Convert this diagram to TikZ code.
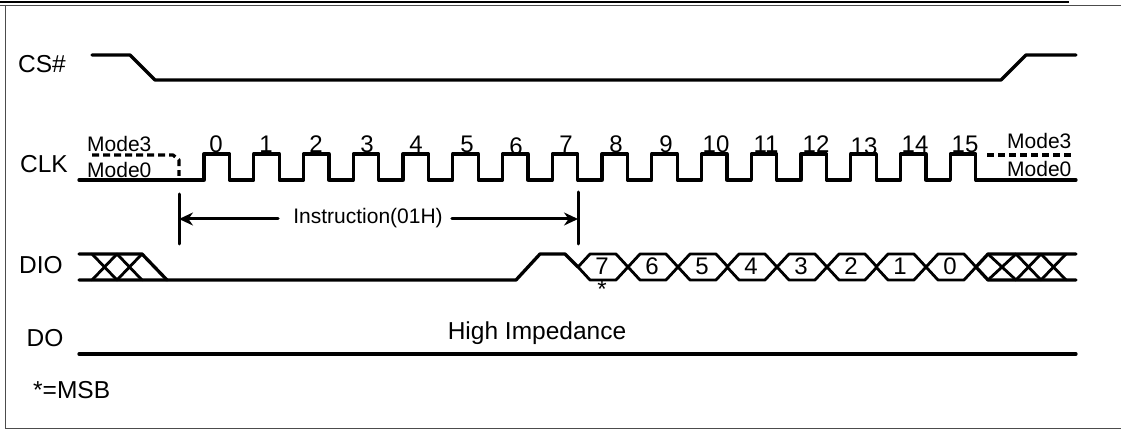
\documentclass[tikz,border=0pt]{standalone}
\usepackage{fontspec}
\setmainfont{Liberation Sans}
\usetikzlibrary{arrows.meta}
\tikzstyle{signal}=[draw,line width=3.3pt,line cap=round,line join=round]
\tikzstyle{thinsignal}=[draw,line width=2.8pt,line cap=round,line join=round]
\tikzstyle{modeline}=[signal,line cap=butt,dash pattern=on 7pt off 4pt]
\tikzstyle{marker}=[draw,line width=3pt,line cap=round]
\tikzstyle{spanline}=[draw,line width=3pt,line cap=round,-{Stealth[length=14pt,width=13pt]}]
\tikzstyle{frameline}=[draw,line width=1.3pt,black!70]
\tikzstyle{signame}=[font=\fontsize{24.5}{24.5}\selectfont,inner sep=0pt]
\tikzstyle{modename}=[font=\fontsize{21}{21}\selectfont,inner sep=0pt]
\tikzstyle{digit}=[font=\fontsize{24}{24}\selectfont,inner sep=0pt]
\begin{document}
\begin{tikzpicture}[x=1pt,y=-1pt]
\useasboundingbox (0,0) rectangle (1121,430);
% frame
\path[draw,line width=2.6pt] (0,2) -- (1069,2);
\path[frameline] (0,5.5) -- (1121,5.5);
\path[frameline] (5.5,5.5) -- (5.5,428.5) -- (1121,428.5);
% names on the left
\foreach \pos/\id/\name in {{(42,64)/cs/CS\#}, {(44,164)/clk/CLK}, {(41,265)/dio/DIO}, {(45,338)/do/DO}}{
  \node[signame] (\id) at \pos {\name};
}
\node[signame,anchor=west] (msb) at (33,390) {*=MSB};
% CS#
\path[signal] (92,55) -- (130,55) -- (155,80) -- (1001,80) -- (1026,55) -- (1076,55);
% CLK
\path[signal] (79,180) -- (204,180)
  \foreach \i in {0,...,15}{
    -- ({204+49.75*\i},154) -- ({229.5+49.75*\i},154) -- ({229.5+49.75*\i},180) -- ({253.75+49.75*\i},180)
  } -- (1076,180);
\path[modeline] (92,155) -- (173,155) -- (179,160) -- (179,176);
\path[modeline] (987,155) -- (1074,155);
\foreach \pos/\id/\name in {{(87,144)/lmt/Mode3}, {(87,170)/lmz/Mode0}, {(1007,141)/rmt/Mode3}, {(1007,169)/rmz/Mode0}}{
  \node[modename,anchor=west] (\id) at \pos {\name};
}
\foreach \x/\y/\name in {216/144/0, 266/144/1, 316/144/2, 367/144/3, 416/144/4, 467/144/5, 516/146/6, 566/144/7,
                         616/144/8, 666/144/9, 716/144/10, 766/144/11, 816/144/12, 864/146/13, 915/144/14, 965/144/15}{
  \node[digit] (c\name) at (\x,\y) {\name};
}
% instruction span
\coordinate (startl) at (179,194);
\coordinate (startr) at (179,244);
\coordinate (endl) at (578,192);
\coordinate (endr) at (578,244);
\coordinate (starta) at (179,219);
\coordinate (enda) at (578,219);
\path[marker] (startl) -- (startr);
\path[marker] (endl) -- (endr);
\node[modename] (instr) at (368,218) {Instruction(01H)};
\path[spanline] ([xshift=-15pt]instr.west |- starta) -- (starta);
\path[spanline] ([xshift=9pt]instr.east |- enda) -- (enda);
% DIO
\path[signal] (79,254) -- (142,254) -- (167,280);
\path[signal] (79,280) -- (516,280) -- (540,254) -- (565,254) -- (578,267);
\foreach \a/\b in {92/117, 117/142}{
  \path[thinsignal] (\a,280) -- (\b,254);
  \path[thinsignal] (\a,254) -- (\b,280);
}
\foreach \x/\name in {578/7, 628/6, 678/5, 727/4, 777/3, 827/2, 876/1, 926/0}{
  \path[thinsignal] (\x,267) -- ({\x+12},254) -- ({\x+38},254) -- ({\x+50},267) -- ({\x+38},280) -- ({\x+12},280) -- cycle;
  \node[digit] (d\name) at ({\x+24},266) {\name};
}
\path[signal] (976,267) -- (988,254) -- (1076,254);
\path[signal] (976,267) -- (988,280) -- (1076,280);
\foreach \a/\b in {988/1016, 1016/1041, 1041/1066}{
  \path[thinsignal] (\a,280) -- (\b,254);
  \path[thinsignal] (\a,254) -- (\b,280);
}
\node[digit] (star) at (602,289) {*};
% DO
\path[signal] (79,354) -- (1076,354);
\node[signame] (hiz) at (537,333) {High Impedance};
\end{tikzpicture}
\end{document}
